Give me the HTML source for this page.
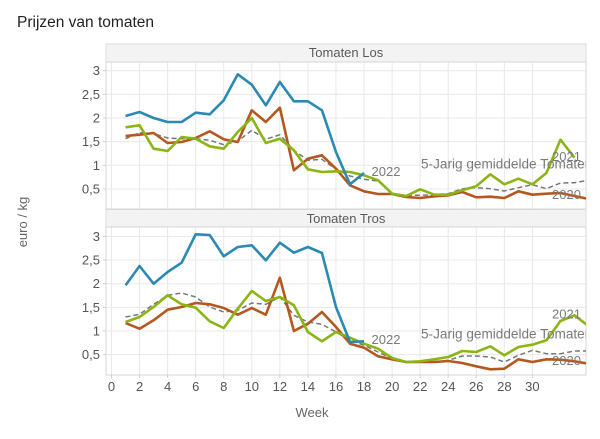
<!DOCTYPE html>
<html><head><meta charset="utf-8">
<style>
html,body{margin:0;padding:0;background:#fff;}
svg{display:block;}
text{font-family:"Liberation Sans",Arial,sans-serif;}
</style></head>
<body>
<svg width="600" height="439" viewBox="0 0 600 439" xmlns="http://www.w3.org/2000/svg">
<defs>
<clipPath id="c1"><rect x="106" y="62" width="480" height="147"/></clipPath>
<clipPath id="c2"><rect x="106" y="227" width="480" height="148"/></clipPath>
</defs>
<rect width="600" height="439" fill="#fff"/>
<text x="17" y="27" font-size="15.5" fill="#222">Prijzen van tomaten</text>

<!-- strips -->
<rect x="106" y="44" width="480" height="18" fill="#f3f3f3" stroke="#dcdcdc" stroke-width="1"/>
<text x="346" y="57" font-size="13" fill="#5a5a5a" text-anchor="middle">Tomaten Los</text>
<rect x="106" y="209.5" width="480" height="17.5" fill="#f3f3f3" stroke="#dcdcdc" stroke-width="1"/>
<text x="346" y="223" font-size="13" fill="#5a5a5a" text-anchor="middle">Tomaten Tros</text>

<!-- grid -->
<g stroke="#e8e8e8" stroke-width="1">
<line x1="106" x2="586" y1="188.95" y2="188.95"/><line x1="106" x2="586" y1="165.3" y2="165.3"/>
<line x1="106" x2="586" y1="141.65" y2="141.65"/><line x1="106" x2="586" y1="118" y2="118"/>
<line x1="106" x2="586" y1="94.35" y2="94.35"/><line x1="106" x2="586" y1="70.7" y2="70.7"/>
<line x1="106" x2="586" y1="354.65" y2="354.65"/><line x1="106" x2="586" y1="331" y2="331"/>
<line x1="106" x2="586" y1="307.35" y2="307.35"/><line x1="106" x2="586" y1="283.7" y2="283.7"/>
<line x1="106" x2="586" y1="260.05" y2="260.05"/><line x1="106" x2="586" y1="236.4" y2="236.4"/>
</g>
<g stroke="#e8e8e8" stroke-width="1">
<line x1="111.5" x2="111.5" y1="62" y2="209"/><line x1="139.56" x2="139.56" y1="62" y2="209"/>
<line x1="167.62" x2="167.62" y1="62" y2="209"/><line x1="195.68" x2="195.68" y1="62" y2="209"/>
<line x1="223.74" x2="223.74" y1="62" y2="209"/><line x1="251.8" x2="251.8" y1="62" y2="209"/>
<line x1="279.86" x2="279.86" y1="62" y2="209"/><line x1="307.92" x2="307.92" y1="62" y2="209"/>
<line x1="335.98" x2="335.98" y1="62" y2="209"/><line x1="364.04" x2="364.04" y1="62" y2="209"/>
<line x1="392.1" x2="392.1" y1="62" y2="209"/><line x1="420.16" x2="420.16" y1="62" y2="209"/>
<line x1="448.22" x2="448.22" y1="62" y2="209"/><line x1="476.28" x2="476.28" y1="62" y2="209"/>
<line x1="504.34" x2="504.34" y1="62" y2="209"/><line x1="532.4" x2="532.4" y1="62" y2="209"/>

<line x1="111.5" x2="111.5" y1="227" y2="375"/><line x1="139.56" x2="139.56" y1="227" y2="375"/>
<line x1="167.62" x2="167.62" y1="227" y2="375"/><line x1="195.68" x2="195.68" y1="227" y2="375"/>
<line x1="223.74" x2="223.74" y1="227" y2="375"/><line x1="251.8" x2="251.8" y1="227" y2="375"/>
<line x1="279.86" x2="279.86" y1="227" y2="375"/><line x1="307.92" x2="307.92" y1="227" y2="375"/>
<line x1="335.98" x2="335.98" y1="227" y2="375"/><line x1="364.04" x2="364.04" y1="227" y2="375"/>
<line x1="392.1" x2="392.1" y1="227" y2="375"/><line x1="420.16" x2="420.16" y1="227" y2="375"/>
<line x1="448.22" x2="448.22" y1="227" y2="375"/><line x1="476.28" x2="476.28" y1="227" y2="375"/>
<line x1="504.34" x2="504.34" y1="227" y2="375"/><line x1="532.4" x2="532.4" y1="227" y2="375"/>
</g>

<!-- panel borders -->
<rect x="106" y="62" width="480" height="147" fill="none" stroke="#d6d6d6" stroke-width="1"/>
<rect x="106" y="227" width="480" height="148" fill="none" stroke="#d6d6d6" stroke-width="1"/>

<!-- ticks -->
<g stroke="#cfcfcf" stroke-width="1">
<line x1="103" x2="106" y1="188.95" y2="188.95"/><line x1="103" x2="106" y1="165.3" y2="165.3"/>
<line x1="103" x2="106" y1="141.65" y2="141.65"/><line x1="103" x2="106" y1="118" y2="118"/>
<line x1="103" x2="106" y1="94.35" y2="94.35"/><line x1="103" x2="106" y1="70.7" y2="70.7"/>
<line x1="103" x2="106" y1="354.65" y2="354.65"/><line x1="103" x2="106" y1="331" y2="331"/>
<line x1="103" x2="106" y1="307.35" y2="307.35"/><line x1="103" x2="106" y1="283.7" y2="283.7"/>
<line x1="103" x2="106" y1="260.05" y2="260.05"/><line x1="103" x2="106" y1="236.4" y2="236.4"/>
</g>
<g stroke="#cfcfcf" stroke-width="1">
<line x1="111.5" x2="111.5" y1="375" y2="378"/><line x1="139.56" x2="139.56" y1="375" y2="378"/>
<line x1="167.62" x2="167.62" y1="375" y2="378"/><line x1="195.68" x2="195.68" y1="375" y2="378"/>
<line x1="223.74" x2="223.74" y1="375" y2="378"/><line x1="251.8" x2="251.8" y1="375" y2="378"/>
<line x1="279.86" x2="279.86" y1="375" y2="378"/><line x1="307.92" x2="307.92" y1="375" y2="378"/>
<line x1="335.98" x2="335.98" y1="375" y2="378"/><line x1="364.04" x2="364.04" y1="375" y2="378"/>
<line x1="392.1" x2="392.1" y1="375" y2="378"/><line x1="420.16" x2="420.16" y1="375" y2="378"/>
<line x1="448.22" x2="448.22" y1="375" y2="378"/><line x1="476.28" x2="476.28" y1="375" y2="378"/>
<line x1="504.34" x2="504.34" y1="375" y2="378"/><line x1="532.4" x2="532.4" y1="375" y2="378"/>
</g>

<!-- y tick labels -->
<g font-size="13" fill="#555" text-anchor="end">
<text x="100" y="193.5">0,5</text><text x="100" y="169.8">1</text><text x="100" y="146.2">1,5</text>
<text x="100" y="122.5">2</text><text x="100" y="98.9">2,5</text><text x="100" y="75.2">3</text>
<text x="100" y="359.2">0,5</text><text x="100" y="335.5">1</text><text x="100" y="311.9">1,5</text>
<text x="100" y="288.2">2</text><text x="100" y="264.6">2,5</text><text x="100" y="240.9">3</text>
</g>
<!-- x tick labels -->
<g font-size="13" fill="#555" text-anchor="middle">
<text x="111.5" y="391">0</text><text x="139.56" y="391">2</text><text x="167.62" y="391">4</text>
<text x="195.68" y="391">6</text><text x="223.74" y="391">8</text><text x="251.8" y="391">10</text>
<text x="279.86" y="391">12</text><text x="307.92" y="391">14</text><text x="335.98" y="391">16</text>
<text x="364.04" y="391">18</text><text x="392.1" y="391">20</text><text x="420.16" y="391">22</text>
<text x="448.22" y="391">24</text><text x="476.28" y="391">26</text><text x="504.34" y="391">28</text>
<text x="532.4" y="391">30</text>
</g>
<text x="312" y="417" font-size="13" fill="#666" text-anchor="middle">Week</text>
<text transform="translate(27,222) rotate(-90)" font-size="13" fill="#666" text-anchor="middle">euro / kg</text>

<!-- TOP PANEL SERIES -->
<g clip-path="url(#c1)" fill="none" stroke-linejoin="round" stroke-linecap="butt">
<polyline stroke="#777" stroke-width="1.5" stroke-dasharray="5,3" points="125.53,138.7 139.56,132.7 153.59,133.7 167.62,138 181.65,138.7 195.68,138.7 209.71,140.3 223.74,144.7 237.77,141.3 251.8,130.3 265.83,139.3 279.86,134.7 293.89,150.3 307.92,160.3 321.95,159.3 335.98,169.3 350.01,176 364.04,179.3 378.07,181 392.1,193.7 406.13,195.3 420.16,195.3 434.19,194.7 448.22,193.7 462.25,188.7 476.28,187.7 490.31,188.7 504.34,191 518.37,187.7 532.4,184.7 546.43,188.7 560.46,183 574.49,182.7 588.52,180.3"/>
<polyline stroke="#B4581F" stroke-width="2.6" points="125.53,136 139.56,134.7 153.59,133 167.62,143 181.65,142 195.68,138 209.71,131.3 223.74,139.3 237.77,142 251.8,110.3 265.83,122 279.86,107.7 293.89,170.3 307.92,158.7 321.95,155.3 335.98,168.7 350.01,185.3 364.04,191.3 378.07,194 392.1,194 406.13,197 420.16,198 434.19,196.3 448.22,195.3 462.25,192 476.28,197.3 490.31,196.7 504.34,198 518.37,191.3 532.4,194.7 546.43,193.7 560.46,193 574.49,196 588.52,199"/>
<polyline stroke="#8AB514" stroke-width="2.6" points="125.53,127.3 139.56,125.3 153.59,148.7 167.62,151 181.65,137 195.68,138.7 209.71,146.3 223.74,148.7 237.77,132 251.8,118 265.83,143 279.86,138.7 293.89,150.3 307.92,169.3 321.95,172 335.98,171.3 350.01,172 364.04,175.3 378.07,180.3 392.1,193.7 406.13,196 420.16,189.3 434.19,194.7 448.22,194.7 462.25,190.3 476.28,186.3 490.31,174.3 504.34,184.3 518.37,178.7 532.4,184.3 546.43,173 560.46,139.7 574.49,157.7"/>
<polyline stroke="#2A8AB4" stroke-width="2.6" points="125.53,116 139.56,112 153.59,118 167.62,122 181.65,122 195.68,112.7 209.71,114.3 223.74,100.3 237.77,74.3 251.8,84.7 265.83,105.3 279.86,82 293.89,101.3 307.92,101.3 321.95,110.3 335.98,152 350.01,184.3 364.04,173"/>
<g font-size="13" fill="#7a7a7a" stroke="none">
<text x="371.5" y="176">2022</text>
<text x="421" y="168.5" font-size="13.6">5-Jarig gemiddelde Tomaten Los</text>
<text x="552" y="161">2021</text>
<text x="552" y="199">2020</text>
</g>
</g>

<!-- BOTTOM PANEL SERIES -->
<g clip-path="url(#c2)" fill="none" stroke-linejoin="round" stroke-linecap="butt">
<polyline stroke="#777" stroke-width="1.5" stroke-dasharray="5,3" points="125.53,317 139.56,314.3 153.59,304.3 167.62,295.3 181.65,293 195.68,297 209.71,307 223.74,312 237.77,310.3 251.8,303 265.83,304.3 279.86,297 293.89,315.3 307.92,322 321.95,324.3 335.98,332 350.01,340.3 364.04,345.3 378.07,352 392.1,358.7 406.13,362 420.16,362 434.19,362 448.22,360.3 462.25,356 476.28,356 490.31,357 504.34,362 518.37,355.3 532.4,350.3 546.43,353.7 560.46,353.7 574.49,351 588.52,351"/>
<polyline stroke="#B4581F" stroke-width="2.6" points="125.53,323 139.56,328.7 153.59,320.3 167.62,309.7 181.65,307 195.68,303 209.71,304.3 223.74,308 237.77,314.7 251.8,308 265.83,314.7 279.86,277.7 293.89,331 307.92,323.7 321.95,312 335.98,327 350.01,343.7 364.04,347.7 378.07,356.3 392.1,359.3 406.13,362 420.16,362 434.19,362 448.22,361 462.25,363 476.28,366.3 490.31,369.3 504.34,368.7 518.37,359.3 532.4,362 546.43,359.3 560.46,359.7 574.49,361.3 588.52,363.7"/>
<polyline stroke="#8AB514" stroke-width="2.6" points="125.53,322 139.56,317 153.59,307 167.62,295.3 181.65,304.3 195.68,307.7 209.71,321.3 223.74,328 237.77,308.7 251.8,291 265.83,301 279.86,297 293.89,305.3 307.92,332 321.95,341.3 335.98,332 350.01,337.7 364.04,343.7 378.07,348.7 392.1,358 406.13,362 420.16,361.3 434.19,359.3 448.22,357 462.25,351 476.28,352 490.31,346.3 504.34,355.3 518.37,347 532.4,344.7 546.43,340.3 560.46,321 574.49,315.3 588.52,326"/>
<polyline stroke="#2A8AB4" stroke-width="2.6" points="125.53,285.3 139.56,266 153.59,283.7 167.62,272 181.65,262.7 195.68,234.3 209.71,235 223.74,256.3 237.77,247 251.8,245.3 265.83,260.3 279.86,242.7 293.89,252.7 307.92,247 321.95,253 335.98,307 350.01,342 364.04,341.3"/>
<g font-size="13" fill="#7a7a7a" stroke="none">
<text x="371.5" y="344">2022</text>
<text x="421" y="338.5" font-size="13.6">5-Jarig gemiddelde Tomaten Tros</text>
<text x="552" y="318.5">2021</text>
<text x="552" y="365">2020</text>
</g>
</g>
</svg>
</body></html>
